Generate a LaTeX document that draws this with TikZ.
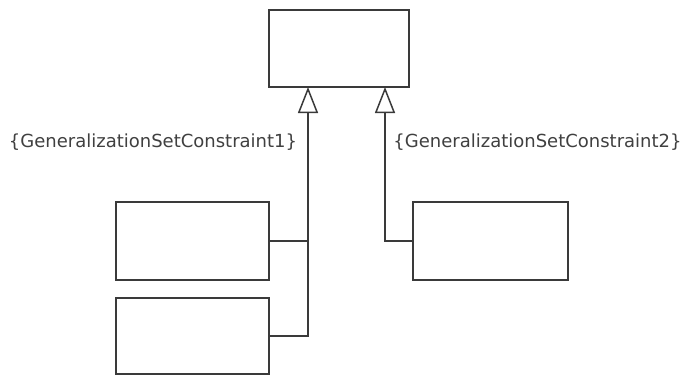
\documentclass[tikz,border=0pt]{standalone}
\usepackage{fontspec}
\setmainfont{DejaVu Sans}
\usetikzlibrary{arrows.meta,positioning,calc}
\definecolor{umlline}{HTML}{3A3A3A}
\definecolor{umltext}{HTML}{404040}
\tikzset{
  classbox/.style={draw=umlline,line width=1.5pt,fill=white,inner sep=0pt},
  genline/.style={draw=umlline,line width=1.5pt,-{Triangle[open,length=26pt,width=20pt,line width=1.5pt]}},
  plainline/.style={draw=umlline,line width=1.5pt},
  constraint/.style={text=umltext,font=\fontsize{18}{20}\selectfont,inner sep=0pt}
}

\begin{document}
\begin{tikzpicture}[x=1pt,y=-1pt]
      \useasboundingbox (0,0) rectangle (684,375);
      % Superclass
      \node[classbox,minimum width=140pt,minimum height=77pt] (general) at (339,48.5) {};
      \coordinate (tip1) at (308,87);
      \coordinate (tip2) at (385,87);
      % Subclasses
      \node[classbox,minimum width=153pt,minimum height=78pt] (specA) at (192.5,241) {};
      \node[classbox,minimum width=153pt,minimum height=76pt] (specB) at (192.5,336) {};
      \node[classbox,minimum width=155pt,minimum height=78pt] (specC) at (490.5,241) {};
      % Generalizations
      \draw[genline] (specB.east) -| (tip1);
      \draw[plainline] (specA.east) -- (specA.east -| tip1);
      \draw[genline] (specC.west) -| (tip2);
      % Constraints
      \node[constraint] (setA) at (153,142) {\{GeneralizationSetConstraint1\}};
      \node[constraint] (setB) at (537.5,142) {\{GeneralizationSetConstraint2\}};
    \end{tikzpicture}
\end{document}
